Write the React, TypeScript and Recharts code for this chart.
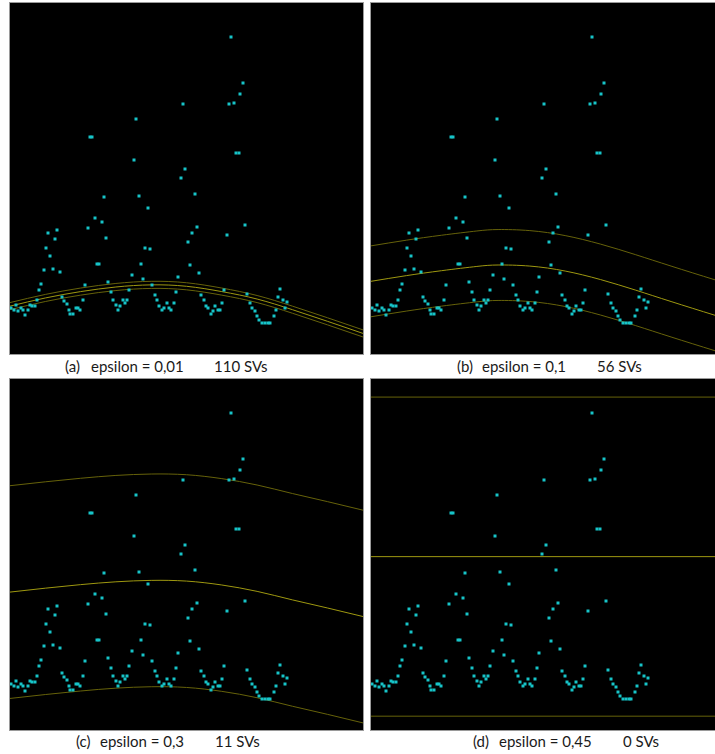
import React from "react";
import { ComposedChart, Scatter, Line, XAxis, YAxis } from "recharts";

// Observed series: t = time, y = value (same sample in every panel)
const sampleT = [
  0.037, 0.102, 0.159, 0.227, 0.3, 0.357, 0.425, 0.499, 0.555, 0.632, 0.703, 0.754, 0.81, 0.878, 0.963,
  1.02, 1.076, 1.142, 1.218, 1.275, 1.34, 1.416, 1.482, 1.538, 1.615, 1.671, 1.708, 1.779, 1.864, 1.935,
  1.992, 2.076, 2.133, 2.198, 2.261, 2.331, 2.397, 2.459, 2.53, 2.595, 2.652, 2.708, 2.779, 2.85, 2.907,
  2.992, 3.048, 3.116, 3.19, 3.246, 3.314, 3.38, 3.445, 3.513, 3.569, 3.654, 3.711, 3.776, 3.833, 3.918,
  3.975, 4.031, 4.108, 4.173, 4.229, 4.295, 4.371, 4.436, 4.493, 4.569, 4.635, 4.691, 4.768, 4.833, 4.89,
  4.946, 5.031, 5.088, 5.144, 5.229, 5.286, 5.343, 5.411, 5.484, 5.541, 5.603, 5.683, 5.751, 5.807, 5.892,
  5.949, 6.006, 6.062, 6.147, 6.204, 6.269, 6.346, 6.411, 6.482, 6.524, 6.601, 6.666, 6.722, 6.807, 6.864,
  6.929, 6.986, 7.062, 7.141, 7.221, 7.3, 7.379, 7.467, 7.524, 7.581, 7.637, 7.722, 7.779, 7.836,
];
const sampleY = [
  0.13, 0.124, 0.138, 0.121, 0.129, 0.124, 0.111, 0.124, 0.138, 0.134, 0.134, 0.152, 0.18, 0.198, 0.236,
  0.3, 0.341, 0.276, 0.24, 0.323, 0.35, 0.23, 0.162, 0.149, 0.142, 0.125, 0.114, 0.114, 0.13, 0.13,
  0.125, 0.152, 0.195, 0.355, 0.611, 0.611, 0.384, 0.255, 0.255, 0.372, 0.443, 0.327, 0.202, 0.175, 0.152,
  0.138, 0.125, 0.134, 0.152, 0.143, 0.152, 0.18, 0.222, 0.547, 0.663, 0.446, 0.254, 0.211, 0.299, 0.411,
  0.295, 0.195, 0.166, 0.152, 0.134, 0.125, 0.129, 0.143, 0.129, 0.125, 0.143, 0.175, 0.216, 0.497, 0.705,
  0.523, 0.317, 0.25, 0.341, 0.45, 0.359, 0.229, 0.166, 0.152, 0.134, 0.129, 0.114, 0.121, 0.134, 0.124,
  0.125, 0.143, 0.18, 0.336, 0.705, 0.893, 0.708, 0.566, 0.566, 0.732, 0.764, 0.363, 0.17, 0.143, 0.129,
  0.12, 0.107, 0.097, 0.087, 0.087, 0.087, 0.087, 0.107, 0.125, 0.162, 0.184, 0.152, 0.129, 0.148,
];

// Fitted regression centre line for each epsilon
const fitA = [
  { t: 0, y: 0.135 }, { t: 1, y: 0.158 }, { t: 2, y: 0.176 }, { t: 3, y: 0.189 }, { t: 4, y: 0.195 },
  { t: 5, y: 0.191 }, { t: 6, y: 0.176 }, { t: 7, y: 0.155 }, { t: 8, y: 0.125 }, { t: 9, y: 0.092 },
  { t: 10, y: 0.058 },
];
const fitB = [
  { t: 0, y: 0.205 }, { t: 1, y: 0.221 }, { t: 2, y: 0.235 }, { t: 3, y: 0.247 }, { t: 3.6, y: 0.251 },
  { t: 4.5, y: 0.248 }, { t: 5.5, y: 0.234 }, { t: 6.5, y: 0.21 }, { t: 7.5, y: 0.18 }, { t: 8.5, y: 0.148 },
  { t: 9.75, y: 0.109 },
];
const fitC = [
  { t: 0, y: 0.389 }, { t: 1, y: 0.4 }, { t: 2, y: 0.41 }, { t: 3, y: 0.418 }, { t: 4, y: 0.422 },
  { t: 5, y: 0.42 }, { t: 6, y: 0.409 }, { t: 7, y: 0.391 }, { t: 8, y: 0.367 }, { t: 9, y: 0.344 },
  { t: 10, y: 0.32 },
];
const fitD = [
  { t: 0, y: 0.489 }, { t: 9.75, y: 0.489 },
];

const epsilons = [0.01, 0.1, 0.3, 0.45];
const letters = ["(a)", "(b)", "(c)", "(d)"];
const epsilonLabels = ["epsilon = 0,01", "epsilon = 0,1", "epsilon = 0,3", "epsilon = 0,45"];
const svLabels = ["110 SVs", "56 SVs", "11 SVs", "0 SVs"];

const points = sampleT.map((t, i) => ({ t, y: sampleY[i] }));

type Fit = { t: number; y: number }[];

const shift = (fit: Fit, d: number) => fit.map((p) => ({ t: p.t, y: +(p.y + d).toFixed(4) }));

const SquareDot = (props: any) => {
  const { cx, cy } = props;
  if (cx == null || cy == null) return null;
  return <rect x={Math.round(cx) - 1.5} y={Math.round(cy) - 1.5} width={3} height={3} fill="#17c4c8" />;
};

const PX_PER_T = 35.3;

type PanelProps = {
  left: number;
  top: number;
  width: number;
  height: number;
  fit: Fit;
  eps: number;
};

const Panel = ({ left, top, width, height, fit, eps }: PanelProps) => {
  const xMax = width / PX_PER_T;
  return (
    <div
      style={{
        position: "absolute",
        left,
        top,
        width,
        height,
        background: "#000",
        boxShadow: "0 0 0 1px #9a9a9a",
      }}
    >
      <ComposedChart width={width} height={height} margin={{ top: 0, right: 0, bottom: 0, left: 0 }}>
        <XAxis dataKey="t" type="number" domain={[0, xMax]} allowDataOverflow hide />
        <YAxis dataKey="y" type="number" domain={[0, 0.99]} allowDataOverflow hide />
        <Line data={shift(fit, eps)} dataKey="y" type="natural" stroke="#66620a" strokeWidth={1} dot={false} isAnimationActive={false} />
        <Line data={fit} dataKey="y" type="natural" stroke="#9e9810" strokeWidth={1} dot={false} isAnimationActive={false} />
        <Line data={shift(fit, -eps)} dataKey="y" type="natural" stroke="#66620a" strokeWidth={1} dot={false} isAnimationActive={false} />
        <Scatter data={points} dataKey="y" shape={SquareDot} isAnimationActive={false} />
      </ComposedChart>
    </div>
  );
};

const captionStyle: React.CSSProperties = {
  position: "absolute",
  fontFamily: "Lato, 'Open Sans', sans-serif",
  fontSize: 15,
  lineHeight: "16px",
  color: "#1a1a1a",
  whiteSpace: "pre",
};

const Caption = ({ idx, top, x0, x1, x2 }: { idx: number; top: number; x0: number; x1: number; x2: number }) => (
  <>
    <div style={{ ...captionStyle, left: x0, top }}>{letters[idx]}</div>
    <div style={{ ...captionStyle, left: x1, top }}>{epsilonLabels[idx]}</div>
    <div style={{ ...captionStyle, left: x2, top }}>{svLabels[idx]}</div>
  </>
);

export default function App() {
  const fits = [fitA, fitB, fitC, fitD];
  return (
    <div style={{ position: "absolute", left: 0, top: 0, width: 715, height: 754, background: "#fff", overflow: "hidden" }}>
      <Panel left={10} top={3} width={353} height={351} fit={fits[0]} eps={epsilons[0]} />
      <Panel left={371} top={3} width={344} height={351} fit={fits[1]} eps={epsilons[1]} />
      <Panel left={10} top={379} width={353} height={351} fit={fits[2]} eps={epsilons[2]} />
      <Panel left={371} top={379} width={344} height={351} fit={fits[3]} eps={epsilons[3]} />
      <Caption idx={0} top={358} x0={65} x1={91} x2={214} />
      <Caption idx={1} top={358} x0={457} x1={482} x2={597} />
      <Caption idx={2} top={733} x0={76} x1={100} x2={215} />
      <Caption idx={3} top={733} x0={473} x1={499} x2={623} />
    </div>
  );
}
